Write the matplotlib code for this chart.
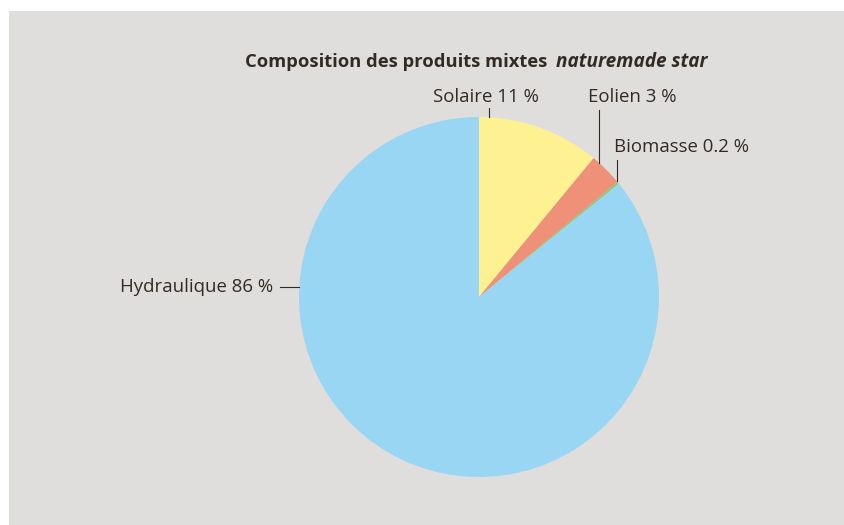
import numpy as np
import matplotlib.pyplot as plt
from matplotlib.patches import Rectangle

# Données
categories = ['Solaire', 'Eolien', 'Biomasse', 'Hydraulique']
valeurs = [11, 3, 0.2, 86]
etiquettes = ['Solaire 11 %', 'Eolien 3 %', 'Biomasse 0.2 %', 'Hydraulique 86 %']
couleurs = ['#fef191', '#ef9178', '#8cc97c', '#98d6f4']

W, H = 844, 525
fig = plt.figure(figsize=(W / 100, H / 100), dpi=100)
fig.patch.set_facecolor('white')
ax = fig.add_axes([0, 0, 1, 1])

# fond gris
ax.add_patch(Rectangle((9, 0), W - 9, H - 11, facecolor='#dfdedc', edgecolor='none', zorder=0))

cx, cy, r = 479, H - 297, 180
ax.pie(valeurs, colors=couleurs, startangle=90, counterclock=False,
       center=(cx, cy), radius=r, wedgeprops=dict(linewidth=0), frame=True)
ax.set_xlim(0, W)
ax.set_ylim(0, H)
ax.set_aspect('equal')
ax.axis('off')

plt.rcParams['font.family'] = ['Open Sans', 'DejaVu Sans']
txt = '#342a25'
fs = 13.4

# titre
ax.text(245, H - 62, 'Composition des produits mixtes', ha='left', va='center',
        fontsize=13.25, fontweight='bold', color=txt)
ax.text(556, H - 62, 'naturemade star', ha='left', va='center',
        fontsize=13.7, fontweight='bold', style='italic', color=txt)


def bord_y(x):
    return cy + np.sqrt(r ** 2 - (x - cx) ** 2)


# lignes de rappel verticales
for x, ytop in [(489, H - 108), (599, H - 110), (617, H - 160)]:
    ax.plot([x, x], [ytop, bord_y(x)], color=txt, lw=0.8)

ax.text(486, H - 97, etiquettes[0], ha='center', va='center', fontsize=fs, color=txt)
ax.text(632, H - 97, etiquettes[1], ha='center', va='center', fontsize=fs, color=txt)
ax.text(682, H - 147, etiquettes[2], ha='center', va='center', fontsize=fs, color=txt)

# Hydraulique
yh = H - 287
ax.plot([280, cx - np.sqrt(r ** 2 - (yh - cy) ** 2)], [yh, yh], color=txt, lw=0.8)
ax.text(273, yh, etiquettes[3], ha='right', va='center', fontsize=fs, color=txt)

fig.savefig('out.png', dpi=100)
